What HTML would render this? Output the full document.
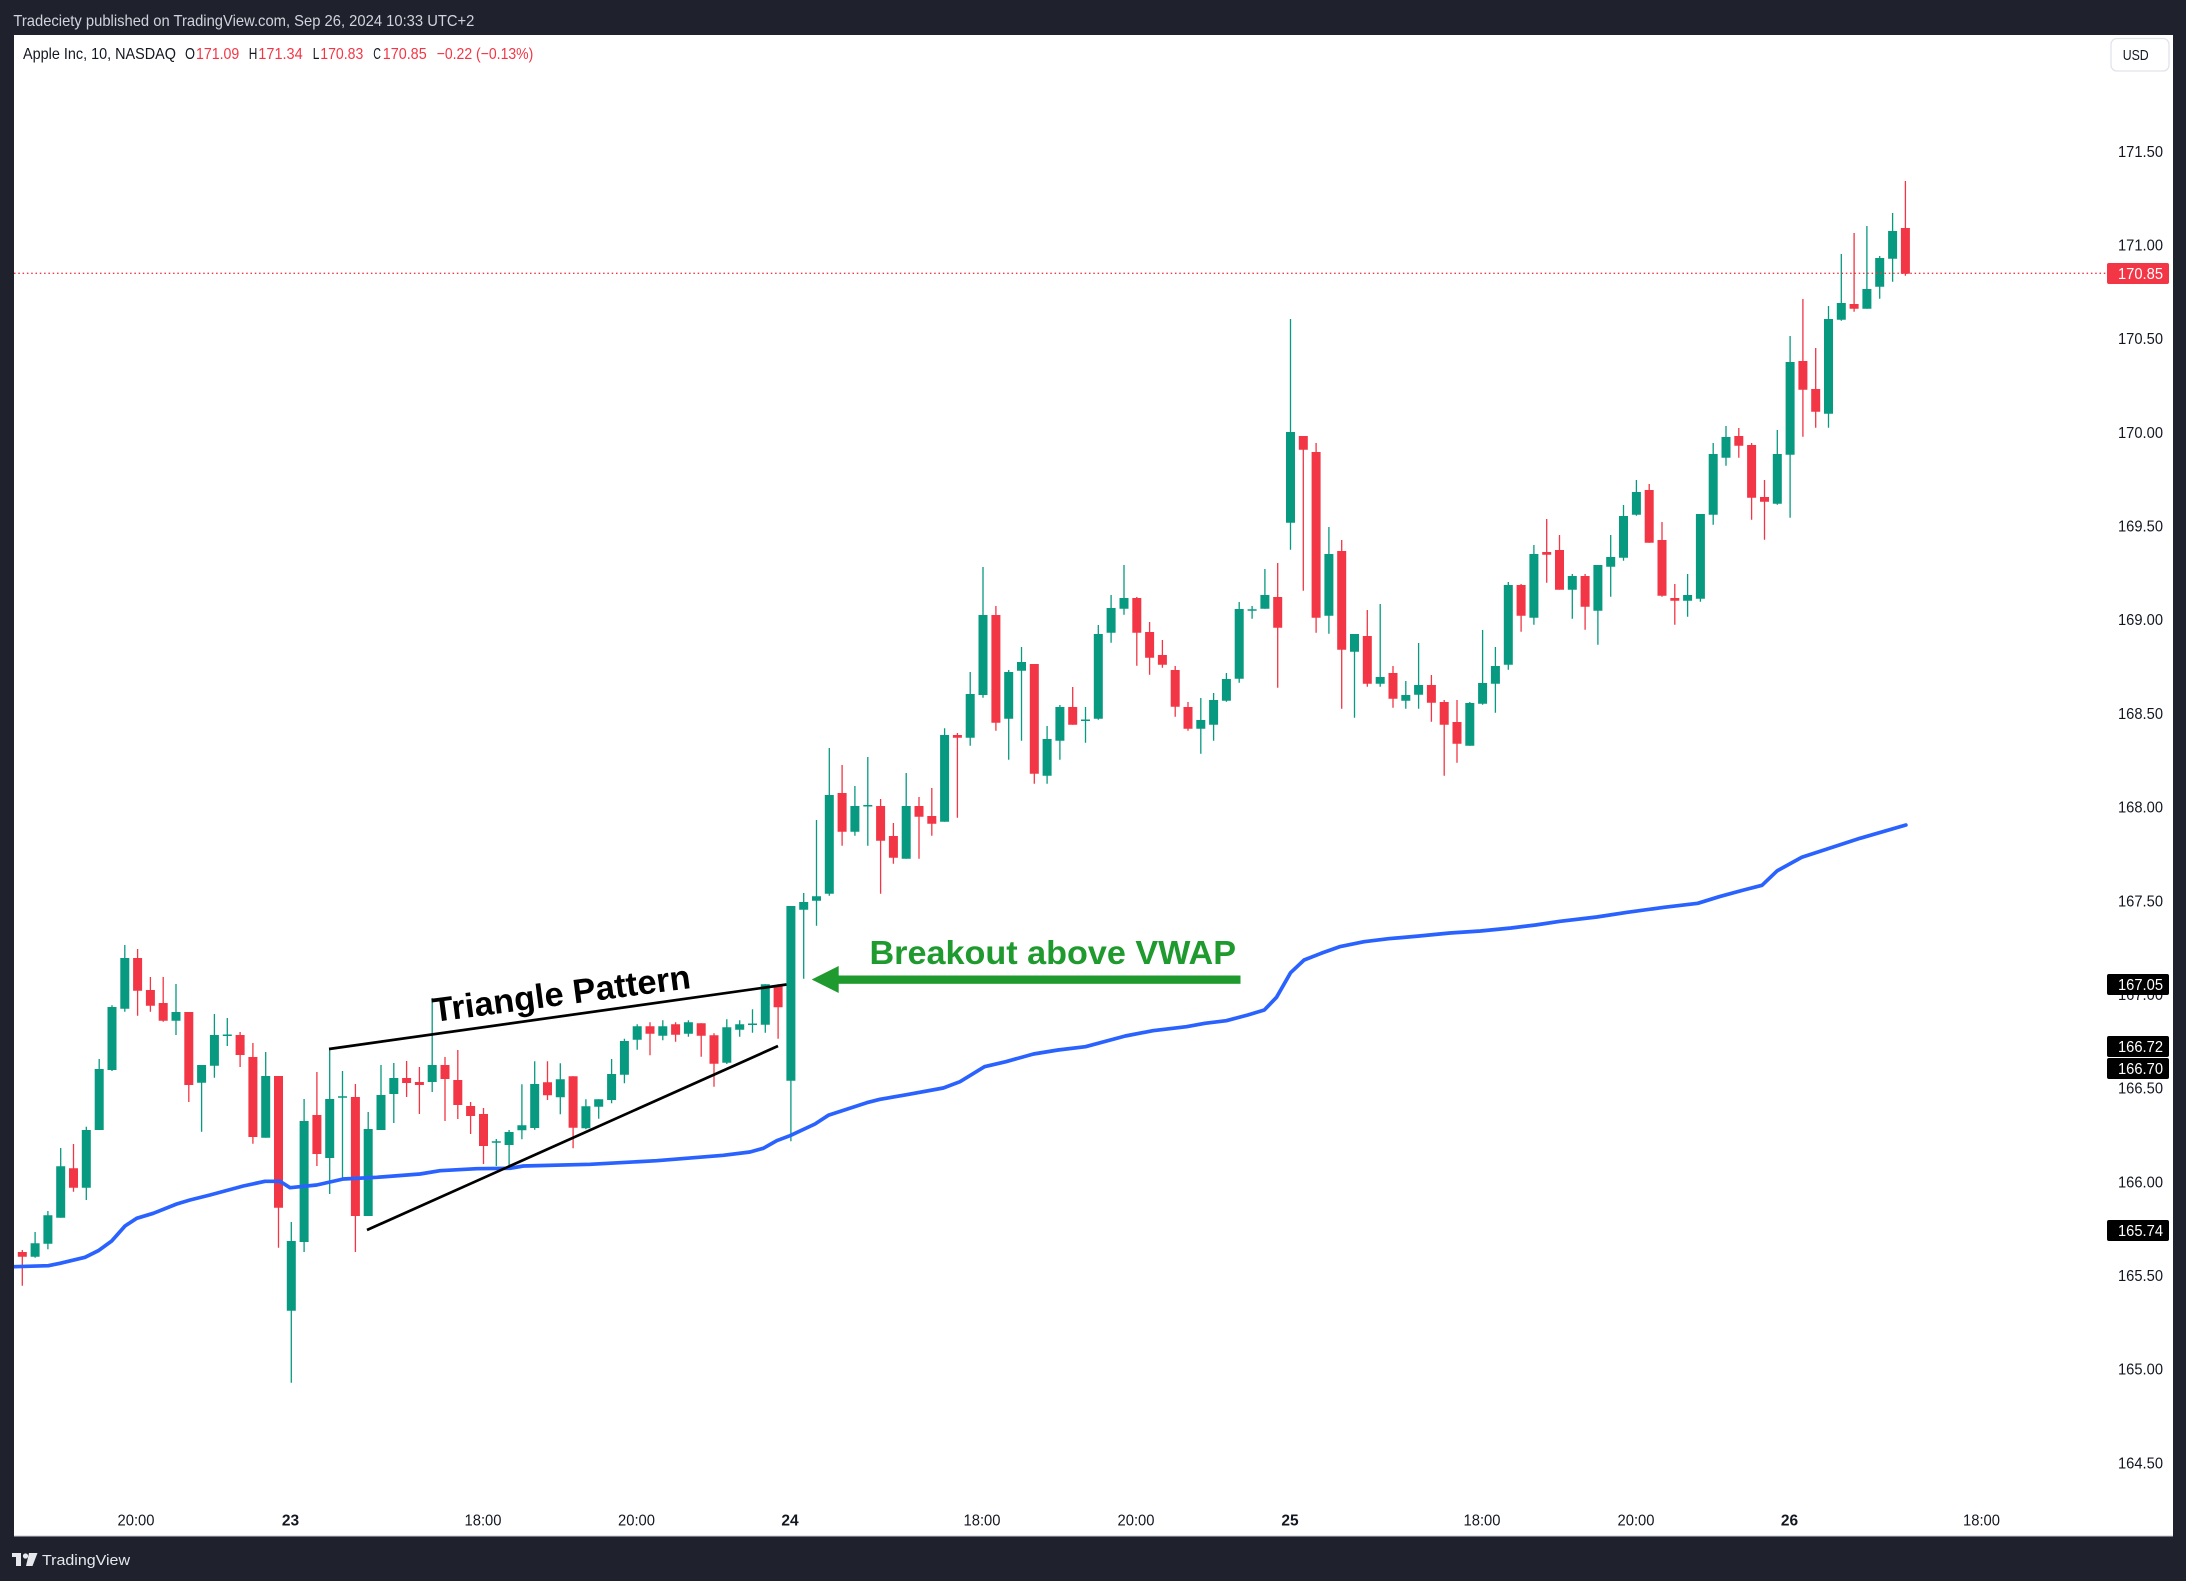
<!DOCTYPE html>
<html><head><meta charset="utf-8"><style>
html,body{margin:0;padding:0;background:#1f222d;}
svg{display:block;}
text{font-family:"Liberation Sans",Arial,sans-serif;}
</style></head><body>
<svg width="2186" height="1581" viewBox="0 0 2186 1581" xmlns="http://www.w3.org/2000/svg">
<rect x="0" y="0" width="2186" height="1581" fill="#1f222d"/>
<rect x="14" y="35" width="2159" height="1501" fill="#ffffff"/>
<line x1="14" y1="1536" x2="2173" y2="1536" stroke="#c8cbd2" stroke-width="1"/>

<!-- header -->
<text x="13.4" y="26" font-size="16" fill="#d1d4dc" textLength="461" lengthAdjust="spacingAndGlyphs">Tradeciety published on TradingView.com, Sep 26, 2024 10:33 UTC+2</text>

<!-- legend -->
<g font-size="16">
<text x="23" y="59" fill="#131722" textLength="153" lengthAdjust="spacingAndGlyphs">Apple Inc, 10, NASDAQ</text>
<text x="185" y="59" fill="#131722" textLength="10" lengthAdjust="spacingAndGlyphs">O</text>
<text x="196" y="59" fill="#f23645" textLength="43.3" lengthAdjust="spacingAndGlyphs">171.09</text>
<text x="248.7" y="59" fill="#131722" textLength="8.6" lengthAdjust="spacingAndGlyphs">H</text>
<text x="258.3" y="59" fill="#f23645" textLength="44.4" lengthAdjust="spacingAndGlyphs">171.34</text>
<text x="312.7" y="59" fill="#131722" textLength="6.6" lengthAdjust="spacingAndGlyphs">L</text>
<text x="320.3" y="59" fill="#f23645" textLength="43" lengthAdjust="spacingAndGlyphs">170.83</text>
<text x="373.3" y="59" fill="#131722" textLength="7.7" lengthAdjust="spacingAndGlyphs">C</text>
<text x="382.7" y="59" fill="#f23645" textLength="44" lengthAdjust="spacingAndGlyphs">170.85</text>
<text x="436.7" y="59" fill="#f23645" textLength="96.6" lengthAdjust="spacingAndGlyphs">−0.22 (−0.13%)</text>
</g>

<!-- USD box -->
<rect x="2111" y="38.5" width="58" height="32.5" rx="6" ry="6" fill="#ffffff" stroke="#e0e3eb" stroke-width="1.3"/>
<text x="2122.7" y="60" font-size="15" fill="#131722" textLength="26" lengthAdjust="spacingAndGlyphs">USD</text>

<!-- y axis labels -->
<g font-size="16" fill="#131722" text-anchor="end">
<text x="2163" y="157" textLength="45" lengthAdjust="spacingAndGlyphs">171.50</text>
<text x="2163" y="250.5" textLength="45" lengthAdjust="spacingAndGlyphs">171.00</text>
<text x="2163" y="344.2" textLength="45" lengthAdjust="spacingAndGlyphs">170.50</text>
<text x="2163" y="437.9" textLength="45" lengthAdjust="spacingAndGlyphs">170.00</text>
<text x="2163" y="531.5" textLength="45" lengthAdjust="spacingAndGlyphs">169.50</text>
<text x="2163" y="625.2" textLength="45" lengthAdjust="spacingAndGlyphs">169.00</text>
<text x="2163" y="718.9" textLength="45" lengthAdjust="spacingAndGlyphs">168.50</text>
<text x="2163" y="812.6" textLength="45" lengthAdjust="spacingAndGlyphs">168.00</text>
<text x="2163" y="906.3" textLength="45" lengthAdjust="spacingAndGlyphs">167.50</text>
<text x="2163" y="999.9" textLength="45" lengthAdjust="spacingAndGlyphs">167.00</text>
<text x="2163" y="1093.6" textLength="45" lengthAdjust="spacingAndGlyphs">166.50</text>
<text x="2163" y="1187.3" textLength="45" lengthAdjust="spacingAndGlyphs">166.00</text>
<text x="2163" y="1280.9" textLength="45" lengthAdjust="spacingAndGlyphs">165.50</text>
<text x="2163" y="1374.6" textLength="45" lengthAdjust="spacingAndGlyphs">165.00</text>
<text x="2163" y="1468.3" textLength="45" lengthAdjust="spacingAndGlyphs">164.50</text>
</g>

<!-- x axis labels -->
<g font-size="15.5" fill="#131722" text-anchor="middle">
<text x="136" y="1525.5" textLength="37" lengthAdjust="spacingAndGlyphs">20:00</text>
<text x="290.5" y="1525.5" font-weight="bold">23</text>
<text x="483" y="1525.5" textLength="37" lengthAdjust="spacingAndGlyphs">18:00</text>
<text x="636.5" y="1525.5" textLength="37" lengthAdjust="spacingAndGlyphs">20:00</text>
<text x="790" y="1525.5" font-weight="bold">24</text>
<text x="982" y="1525.5" textLength="37" lengthAdjust="spacingAndGlyphs">18:00</text>
<text x="1136" y="1525.5" textLength="37" lengthAdjust="spacingAndGlyphs">20:00</text>
<text x="1290" y="1525.5" font-weight="bold">25</text>
<text x="1482" y="1525.5" textLength="37" lengthAdjust="spacingAndGlyphs">18:00</text>
<text x="1636" y="1525.5" textLength="37" lengthAdjust="spacingAndGlyphs">20:00</text>
<text x="1789.5" y="1525.5" font-weight="bold">26</text>
<text x="1981.5" y="1525.5" textLength="37" lengthAdjust="spacingAndGlyphs">18:00</text>
</g>

<!-- candles -->
<g fill="none" stroke-linecap="butt">
<path stroke="#089981" stroke-width="1.3" d="M35.1 1232V1257.7M47.9 1211V1249.3M60.7 1148V1217.7M86.3 1126.7V1200M99.2 1059V1130M112 1005.3V1071M124.8 945V1011.7M176 984V1035M201.6 1065V1131.7M214.4 1014V1077.7M227.3 1018V1046M265.7 1052V1137.7M291.3 1222V1382.7M304.1 1099V1252M329.7 1049V1194M342.5 1071V1179M368.2 1112V1216M381 1065V1130M393.8 1063V1123M432.2 998V1092M496.3 1139V1166M509.1 1130V1168.3M521.9 1084.3V1139.3M534.7 1061.3V1129.7M560.3 1063.3V1114.3M585.9 1099.3V1129.3M598.7 1099.3V1118.7M611.6 1059V1103.3M624.4 1038.7V1083.3M637.2 1024.3V1049.7M662.8 1020.3V1040.3M688.4 1020.3V1036.7M726.8 1019.3V1064M739.7 1020.3V1036.7M752.5 1009.3V1032.7M765.3 984.3V1032.7M790.9 906V1141.3M803.7 893V978.7M816.5 820V925.7M829.3 748V895.7M854.9 786V835.7M867.8 757V845.7M906.2 773V858.7M944.6 728.3V821.7M970.2 672V745.7M983 567V697.7M1008.7 670V759.7M1021.5 647V740.7M1047.1 726V783.7M1059.9 705V759.7M1085.5 707V742.7M1098.3 625V719.7M1111.1 595V642.7M1124 565V614.7M1200.8 698V753.7M1213.6 693V740.7M1226.4 673V701.7M1239.2 602V682.7M1252.1 606V618.7M1264.9 569V608.7M1290.5 319V549.7M1328.9 527V633.7M1354.5 634V717.7M1380.2 604V686.7M1405.8 681V708.7M1418.6 643V708.7M1469.8 702V745.7M1482.6 630V704.7M1495.4 647V712.7M1508.3 582V669.7M1533.9 545V624.7M1572.3 574V618.7M1597.9 565V644.7M1610.7 535V596.7M1623.5 505V560.7M1636.4 480V515.7M1687.6 574V616.7M1700.4 514V601.7M1713.2 443V524.7M1726 426V465.7M1777.3 430V504.7M1790.1 336V517.7M1828.5 306V427.7M1841.3 254V320.7M1866.9 226V308.7M1879.7 256V298.7M1892.6 213V281.7"/>
<path stroke="#089981" stroke-width="9" d="M35.1 1243.3V1256.7M47.9 1215.3V1243.7M60.7 1166.3V1217.7M86.3 1130V1187.7M99.2 1069V1130M112 1007V1070M124.8 958V1008.7M176 1012V1020.7M201.6 1065V1082.7M214.4 1035V1065.7M227.3 1034.5V1036M265.7 1076V1137.7M291.3 1241V1310.7M304.1 1121V1242M329.7 1099V1158M342.5 1096.3V1097.7M368.2 1129V1216M381 1095V1130M393.8 1078V1094M432.2 1065V1082M496.3 1141.3V1142.7M509.1 1132V1145M521.9 1125.3V1130.3M534.7 1084V1128M560.3 1079.3V1097.3M585.9 1106.3V1128.3M598.7 1099.3V1106.7M611.6 1074V1100M624.4 1041V1074.7M637.2 1026.3V1039.7M662.8 1026.3V1035.7M688.4 1022.3V1033.7M726.8 1027.3V1062.7M739.7 1024.3V1029.7M752.5 1023.5V1025M765.3 984.3V1024.7M790.9 906V1080.7M803.7 902V909.7M816.5 896.3V900.7M829.3 795V893.7M854.9 806V831.7M867.8 805V806.5M906.2 806V858.7M944.6 735V821.7M970.2 694V737.7M983 615V695M1008.7 672V718.7M1021.5 662V670.7M1047.1 739V775.7M1059.9 707V740.7M1085.5 719.5V721M1098.3 634V718.7M1111.1 608V632.7M1124 598V608.7M1200.8 720V728.7M1213.6 700V724.7M1226.4 679V700.7M1239.2 609V678.7M1252.1 609.3V610.7M1264.9 595V608.7M1290.5 432V522.7M1328.9 554V615.7M1354.5 634V651.7M1380.2 677V683.7M1405.8 695V700.7M1418.6 685V694.7M1469.8 703V745.7M1482.6 683V703.7M1495.4 666V683.7M1508.3 585V664.7M1533.9 554V617.7M1572.3 576V589.7M1597.9 565V610.7M1610.7 557V566.7M1623.5 516V557.7M1636.4 492V514.7M1687.6 595V600.7M1700.4 514V598.7M1713.2 454V514.7M1726 437V457.7M1777.3 454V503.7M1790.1 362V454.7M1828.5 319V413.7M1841.3 303V319.7M1866.9 289V308.7M1879.7 258V286.7M1892.6 231V258.7"/>
<path stroke="#f23645" stroke-width="1.3" d="M9.5 1246V1253M22.3 1250V1285.7M73.5 1144V1191.7M137.6 949V1015.7M150.4 977V1011.7M163.2 977V1021.7M188.8 1012V1102M240.1 1032V1067M252.9 1043V1143.7M278.5 1076V1247.7M316.9 1072V1166M355.4 1084V1252M406.6 1061V1097M419.4 1067V1114M445 1057V1121M457.8 1050V1119M470.6 1102V1134M483.5 1108V1164M547.5 1061.3V1100M573.1 1076.3V1148.3M650 1022.3V1055.3M675.6 1022.3V1041.7M701.2 1023.3V1056.7M714 1033.3V1086.7M778.1 984.3V1038.7M842.1 765V845.7M880.6 799V893.7M893.4 823V863.7M919 797V858.7M931.8 788V835.7M957.4 733V817.7M995.9 606V730.7M1034.3 664V783.7M1072.7 687V724.7M1136.8 597V665.7M1149.6 622V674.7M1162.4 640V667.7M1175.2 666V716.7M1188 702V730.7M1277.7 563V687.7M1303.3 436V590.7M1316.1 443V632.7M1341.7 540V708.7M1367.3 610V686.7M1393 666V707.7M1431.4 675V721.7M1444.2 700V775.7M1457 700V762.7M1521.1 584V631.7M1546.7 519V582.7M1559.5 535V589.7M1585.1 574V629.7M1649.2 484V542.7M1662 522V596.7M1674.8 584V624.7M1738.8 428V457.7M1751.6 443V519.7M1764.5 480V539.7M1802.9 299V436.7M1815.7 348V427.7M1854.1 233V311.7M1905.4 181V275.7"/>
<path stroke="#f23645" stroke-width="9" d="M9.5 1248.3V1251M22.3 1252V1256.7M73.5 1168.3V1187.7M137.6 958V990.7M150.4 990V1005.7M163.2 1003V1020.7M188.8 1012V1085M240.1 1035V1055M252.9 1057V1137M278.5 1076V1207.7M316.9 1115V1154M355.4 1097V1216M406.6 1078V1083M419.4 1082V1085M445 1065V1079M457.8 1080V1105M470.6 1106V1116M483.5 1114V1146M547.5 1082.3V1095.3M573.1 1076.3V1127.7M650 1026.3V1033.7M675.6 1024.3V1034.7M701.2 1023.3V1035.7M714 1035.3V1063.7M778.1 986.3V1007.3M842.1 793V831.7M880.6 806V840.7M893.4 836V857.7M919 806V816.7M931.8 816V823.7M957.4 735V737.7M995.9 615V722.7M1034.3 664V773.7M1072.7 707V724.7M1136.8 598V632.7M1149.6 632V657.7M1162.4 655V664.7M1175.2 670V706.7M1188 707V728.7M1277.7 597V627.7M1303.3 436V449.7M1316.1 452V617.7M1341.7 551V649.7M1367.3 636V683.7M1393 673V698.7M1431.4 685V702.7M1444.2 702V724.7M1457 722V743.7M1521.1 585V615.7M1546.7 552V554.7M1559.5 550V589.7M1585.1 576V606.7M1649.2 490V542.7M1662 540V595.7M1674.8 598V600.7M1738.8 436V445.7M1751.6 445V497.7M1764.5 497V501.7M1802.9 361V389.7M1815.7 389V411.7M1854.1 304V308.7M1905.4 228V273.7"/>
</g>

<!-- last price dotted line -->
<line x1="14" y1="273.3" x2="2106" y2="273.3" stroke="#f23645" stroke-width="1.3" stroke-dasharray="1.5 2.8"/>

<!-- VWAP -->
<polyline fill="none" stroke="#2962ff" stroke-width="3.7" stroke-linejoin="round" stroke-linecap="round" points="14,1266.7 48.3,1265.7 60,1263.3 85,1257.3 98.3,1250.7 111.7,1241 125,1226 136.7,1218.3 153.3,1213.3 176.7,1204 190,1200 210,1195 243.3,1186 265,1181.3 280,1181.3 290,1187.7 300,1186.7 316.7,1185 343.3,1179 376.7,1177.3 420,1174 440,1170.7 476.7,1168.7 510,1168.3 523.3,1166 590,1164.3 656.7,1160.7 723.3,1155.3 750,1152 763.3,1148.3 776.7,1140.7 790,1135.7 815,1124 828.3,1115.3 866.7,1102.7 880,1099.3 906.7,1094.7 943.3,1088 960,1081.7 984.5,1066.7 1005.9,1061.7 1033.5,1054 1058,1050 1085.5,1046.7 1125.3,1036 1152.9,1030.7 1186.5,1026.7 1204.9,1023.3 1226.3,1020.7 1247.8,1015 1264.3,1010 1276.5,997.3 1290.6,972.7 1304.1,960 1321.2,953.3 1339.6,946.7 1364.1,941.7 1388.6,938.7 1419.2,936 1449.8,933 1480.4,931 1511,928 1535.5,925 1560,921.3 1596.7,917 1627.3,912.3 1664.1,907.3 1697.8,903.3 1719.2,896.7 1743.7,890 1762,885.3 1777.3,870.7 1801.8,857.3 1829.4,848.3 1860,838.3 1905.9,825"/>

<!-- triangle lines -->
<line x1="329" y1="1049" x2="786.5" y2="984.5" stroke="#000" stroke-width="2.7"/>
<line x1="367" y1="1230" x2="778" y2="1046" stroke="#000" stroke-width="2.7"/>
<text x="434" y="1022" font-size="34" font-weight="bold" fill="#000" transform="rotate(-7.5 434 1022)" textLength="260" lengthAdjust="spacingAndGlyphs">Triangle Pattern</text>

<!-- breakout annotation -->
<text x="869.5" y="964" font-size="33" font-weight="bold" fill="#1f9a2e" textLength="366.5" lengthAdjust="spacingAndGlyphs">Breakout above VWAP</text>
<rect x="836" y="975.5" width="404.5" height="8.3" fill="#1f9a2e"/>
<polygon points="811.7,979.5 838.7,966 838.7,993" fill="#1f9a2e"/>

<!-- price labels -->
<g font-size="16" text-anchor="end" fill="#ffffff">
<rect x="2107" y="263" width="62" height="21" rx="2" fill="#f23645"/>
<text x="2163" y="279.2" textLength="45" lengthAdjust="spacingAndGlyphs">170.85</text>
<rect x="2107" y="974" width="62" height="21" rx="2" fill="#000"/>
<text x="2163" y="990.2" textLength="45" lengthAdjust="spacingAndGlyphs">167.05</text>
<rect x="2107" y="1036" width="62" height="21" rx="2" fill="#000"/>
<text x="2163" y="1052.2" textLength="45" lengthAdjust="spacingAndGlyphs">166.72</text>
<rect x="2107" y="1058" width="62" height="21" rx="2" fill="#000"/>
<text x="2163" y="1074.2" textLength="45" lengthAdjust="spacingAndGlyphs">166.70</text>
<rect x="2107" y="1220" width="62" height="21" rx="2" fill="#000"/>
<text x="2163" y="1236.2" textLength="45" lengthAdjust="spacingAndGlyphs">165.74</text>
</g>

<!-- frame overlays -->
<rect x="0" y="35" width="14" height="1502" fill="#1f222d"/>
<rect x="2173" y="35" width="13" height="1502" fill="#1f222d"/>

<!-- footer -->
<g fill="#e6e8ee">
<rect x="12" y="1553" width="9" height="4"/>
<rect x="16" y="1553" width="5" height="13"/>
<circle cx="25.5" cy="1556" r="2.6"/>
<polygon points="29,1553 37.5,1553 32.5,1566 26,1566"/>
</g>
<text x="42" y="1565" font-size="15" fill="#e6e8ee" textLength="88" lengthAdjust="spacingAndGlyphs">TradingView</text>
</svg>
</body></html>
